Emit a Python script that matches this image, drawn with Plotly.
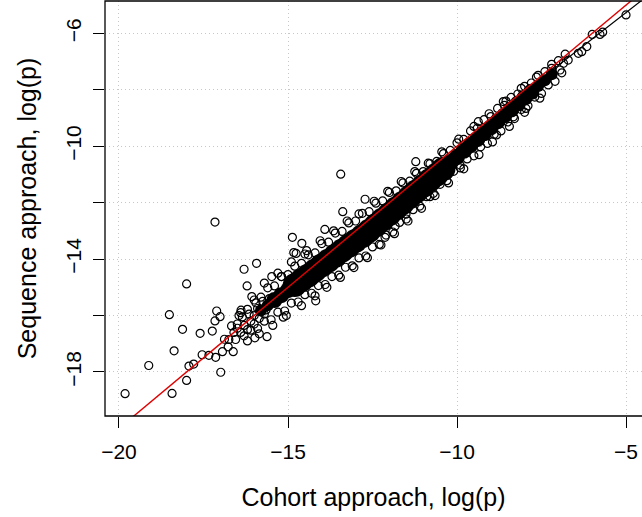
import plotly.graph_objects as go

# ---------------- data (log p values) ----------------
# isolated / scattered points (cohort, sequence)
pts_x = [-17.16, -18.00, -18.51, -17.11, -17.01, -17.16, -18.12, -17.60, -17.24, -18.37,
         -19.12, -19.82, -18.43, -18.00, -17.93, -17.79, -17.54, -17.34, -17.14, -16.99,
         -16.94, -16.88, -16.77, -16.67, -16.62, -16.30, -15.93, -16.21, -16.07, -14.87,
         -14.59, -15.98, -15.62, -16.39, -15.48, -15.19, -15.14, -14.18, -14.83, -14.50,
         -14.76, -13.44, -11.22, -12.72, -13.38, -10.80, -11.51, -11.83, -12.13, -13.91,
         -8.63, -8.83, -7.96, -8.33, -9.91, -9.37,
         -5.00, -6.00, -5.69, -5.77, -6.16, -6.31, -6.41, -6.71, -6.85, -6.95, -7.20,
         -16.50, -16.40, -16.55, -16.30, -16.45, -16.20,
         -16.00, -15.80, -15.60, -15.90, -15.70, -16.10,
         -16.20, -16.00, -15.85, -16.35, -16.15, -15.95, -15.75, -15.65, -15.55, -16.60,
         -16.75, -16.50]
pts_y = [-12.69, -14.88, -15.97, -15.84, -16.04, -16.19, -16.49, -16.63, -16.55, -17.25,
         -17.77, -18.77, -18.76, -18.30, -17.79, -17.72, -17.39, -17.41, -17.48, -18.01,
         -17.28, -16.84, -17.11, -16.37, -17.28, -14.36, -14.15, -14.95, -15.33, -13.23,
         -13.44, -16.79, -16.75, -15.81, -14.62, -14.62, -16.06, -15.48, -13.77, -13.82,
         -13.80, -10.99, -10.55, -11.88, -12.32, -11.79, -12.41, -12.83, -13.23, -12.95,
         -8.42, -9.60, -8.66, -8.96, -10.67, -9.13,
         -5.35, -6.04, -5.96, -6.04, -6.47, -6.65, -6.71, -6.95, -7.06, -7.30, -7.24,
         -16.30, -16.60, -16.85, -16.35, -16.00, -16.90,
         -16.00, -15.85, -15.60, -15.75, -15.95, -16.20,
         -16.50, -16.30, -16.10, -16.05, -15.95, -15.55, -15.50, -15.80, -15.40, -16.60,
         -16.85, -16.45]

# points along the upper edge of the dense cloud
up_x = [-16.4, -16.2, -16.0, -15.8, -15.6, -15.4, -15.2, -15.0, -14.8, -14.6,
        -14.4, -14.2, -14.0, -13.8, -13.6, -13.4, -13.2, -13.0, -12.8, -12.6,
        -12.4, -12.2, -12.0, -11.8, -11.6, -11.4, -11.2, -11.0, -10.8, -10.6,
        -10.4, -10.2, -10.0, -9.8, -9.6, -9.4, -9.2, -9.0, -8.8, -8.6,
        -8.4, -8.2, -8.0, -7.8, -7.6, -7.4, -7.2, -7.0, -6.8,
        -15.7, -15.3, -14.9, -14.45, -14.05, -13.65, -13.25, -12.9, -12.45, -12.05,
        -11.65, -11.25, -10.85, -10.45, -9.95, -9.5, -9.05, -8.55, -8.1, -7.65]
up_y = [-15.90, -15.78, -15.45, -15.35, -15.02, -14.95, -14.62, -14.55, -14.25, -14.15,
        -13.85, -13.78, -13.45, -13.40, -13.08, -13.02, -12.72, -12.65, -12.38, -12.32,
        -12.02, -11.94, -11.64, -11.58, -11.30, -11.24, -10.96, -10.90, -10.62, -10.54,
        -10.26, -10.15, -9.88, -9.76, -9.46, -9.36, -9.06, -8.95, -8.66, -8.55,
        -8.27, -8.15, -7.88, -7.76, -7.49, -7.36, -7.10, -6.97, -6.74,
        -14.85, -14.50, -14.10, -13.70, -13.35, -13.00, -12.65, -12.40, -11.95, -11.60,
        -11.25, -10.90, -10.60, -10.20, -9.75, -9.30, -8.85, -8.40, -7.95, -7.55]

# points along the lower edge of the dense cloud
lo_x = [-16.3, -16.1, -15.9, -15.7, -15.5, -15.3, -15.1, -14.9, -14.7, -14.5,
        -14.3, -14.1, -13.9, -13.7, -13.5, -13.3, -13.1, -12.9, -12.7, -12.5,
        -12.3, -12.1, -11.9, -11.7, -11.5, -11.3, -11.1, -10.9, -10.7, -10.5,
        -10.3, -10.1, -9.9, -9.7, -9.5, -9.3, -9.1, -8.9, -8.7, -8.5,
        -8.3, -8.1, -7.9, -7.7, -7.5, -7.3, -7.1, -6.9,
        -15.85, -15.45, -15.05, -14.6, -14.2, -13.85, -13.45, -13.05, -12.65, -12.25,
        -11.85, -11.45, -11.05, -10.65, -10.25, -9.8, -9.35, -8.95, -8.45, -8.0, -7.55]
lo_y = [-16.72, -16.52, -16.46, -16.20, -16.15, -15.88, -15.84, -15.56, -15.52, -15.26,
        -15.21, -14.94, -14.90, -14.62, -14.57, -14.29, -14.24, -13.96, -13.89, -13.57,
        -13.48, -13.15, -13.04, -12.70, -12.58, -12.25, -12.12, -11.79, -11.67, -11.35,
        -11.22, -10.89, -10.77, -10.45, -10.34, -10.02, -9.90, -9.58, -9.46, -9.14,
        -9.02, -8.70, -8.57, -8.26, -8.13, -7.83, -7.70, -7.40,
        -16.65, -16.35, -16.00, -15.65, -15.30, -15.00, -14.65, -14.30, -13.95, -13.50,
        -13.10, -12.65, -12.20, -11.75, -11.30, -10.80, -10.30, -9.85, -9.30, -8.80, -8.30]

# heavily over-plotted core of the cloud (solid black in the picture)
core_wide_x = [-14.8, -14.6, -14.4, -14.2, -14.0, -13.8, -13.6, -13.4, -13.2, -13.0,
               -12.8, -12.6, -12.4, -12.2, -12.0, -11.8, -11.6, -11.4, -11.2, -11.0,
               -10.8, -10.6, -10.4]
core_wide_y = [-14.92, -14.75, -14.58, -14.40, -14.22, -14.05, -13.88, -13.70, -13.53, -13.35,
               -13.18, -13.00, -12.80, -12.60, -12.40, -12.20, -12.00, -11.80, -11.60, -11.40,
               -11.20, -11.00, -10.80]
core_mid_x = [-15.4, -15.2, -15.0,
              -10.2, -10.0, -9.8, -9.6, -9.4, -9.2, -9.0, -8.8, -8.6, -8.4, -8.2, -8.0, -7.8]
core_mid_y = [-15.45, -15.28, -15.10,
              -10.58, -10.37, -10.16, -9.95, -9.75, -9.54, -9.33, -9.12, -8.91, -8.70, -8.49, -8.28, -8.07]
core_thin_x = [-15.8, -15.6, -7.6, -7.4, -7.2]
core_thin_y = [-15.82, -15.64, -7.87, -7.66, -7.45]

# fitted (black) line end points and identity (red) line
fit_x = [-8.5, -4.3]
fit_y = [-8.533, -4.613]
ident = [-21.0, -4.0]

x_ticks = [-20, -15, -10, -5]
y_ticks = [-18, -16, -14, -12, -10, -8, -6]
y_labels = ["\u221218", "", "\u221214", "", "\u221210", "", "\u22126"]
x_labels = ["\u221220", "\u221215", "\u221210", "\u22125"]

# ---------------- figure ----------------
ring = dict(symbol="circle-open", size=8, color="black", line=dict(width=1.2, color="black"))
fig = go.Figure()
for cx, cy, s in [(core_wide_x, core_wide_y, 24), (core_mid_x, core_mid_y, 16), (core_thin_x, core_thin_y, 12)]:
    fig.add_trace(go.Scatter(x=cx, y=cy, mode="markers",
                             marker=dict(symbol="circle", size=s, color="black", line=dict(width=0)),
                             hoverinfo="skip", showlegend=False))
for px, py in [(up_x, up_y), (lo_x, lo_y), (pts_x, pts_y)]:
    fig.add_trace(go.Scatter(x=px, y=py, mode="markers", marker=ring, showlegend=False))
fig.add_trace(go.Scatter(x=fit_x, y=fit_y, mode="lines", line=dict(color="black", width=1.2), showlegend=False))
fig.add_trace(go.Scatter(x=ident, y=ident, mode="lines", line=dict(color="#e00000", width=1.4), showlegend=False))

font = dict(family="Liberation Sans, Arial, Helvetica, sans-serif", size=21, color="black")
fig.update_layout(
    width=642, height=517,
    margin=dict(l=105, r=0, t=1, b=101),
    paper_bgcolor="white", plot_bgcolor="white",
    font=font,
    showlegend=False,
    xaxis=dict(range=[-20.414, -4.527], tickmode="array", tickvals=x_ticks, ticktext=x_labels,
               ticks="outside", ticklen=11, tickwidth=1, tickcolor="black", ticklabelstandoff=6,
               showgrid=True, gridcolor="#c8c8c8", griddash="1px,3px", gridwidth=1,
               zeroline=False, showline=False,
               title=dict(text="Cohort approach, log(p)", standoff=26)),
    yaxis=dict(range=[-19.56, -4.855], tickmode="array", tickvals=y_ticks, ticktext=y_labels,
               tickangle=-90, ticklabelstandoff=4,
               ticks="outside", ticklen=11, tickwidth=1, tickcolor="black",
               showgrid=True, gridcolor="#c8c8c8", griddash="1px,3px", gridwidth=1,
               zeroline=False, showline=False,
               title=dict(text="Sequence approach, log(p)", standoff=17)),
    shapes=[dict(type="rect", xref="paper", yref="paper", x0=0, x1=1.02, y0=0, y1=1,
                 line=dict(color="black", width=1.3), layer="above")],
)
fig.write_html("out.html")
